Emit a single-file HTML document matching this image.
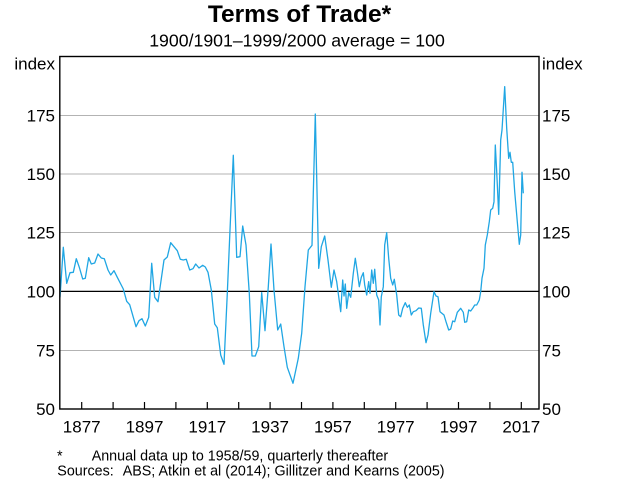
<!DOCTYPE html>
<html><head><meta charset="utf-8"><style>
html,body{margin:0;padding:0;background:#fff;}
svg{display:block;font-family:"Liberation Sans",Arial,sans-serif;}
</style></head><body>
<svg width="619" height="489" viewBox="0 0 619 489" xmlns="http://www.w3.org/2000/svg">
<rect width="619" height="489" fill="#fff"/>
<text x="299.5" y="22" text-anchor="middle" font-size="24.5" font-weight="bold" fill="#000">Terms of Trade*</text>
<text x="297" y="46.5" text-anchor="middle" font-size="17.7" fill="#000">1900/1901–1999/2000 average = 100</text>
<g stroke="#b3b3b3" stroke-width="1" shape-rendering="crispEdges">
<line x1="60" y1="115.3" x2="539" y2="115.3"/>
<line x1="60" y1="173.8" x2="539" y2="173.8"/>
<line x1="60" y1="232.5" x2="539" y2="232.5"/>
<line x1="60" y1="350.3" x2="539" y2="350.3"/>
</g>
<line x1="60" y1="291.4" x2="539" y2="291.4" stroke="#000" stroke-width="1.2"/>
<polyline fill="none" stroke="#20a6e3" stroke-width="1.3" stroke-linejoin="round" points="60,297.3 63.3,247.3 66.7,283.3 70,272.7 73.3,272.3 76.3,258.7 79.3,267.3 82.7,279 85.3,278.3 88.7,257.7 91.3,264 94.7,263 98,254 101.3,258 104.3,258.7 108,270 110.7,275 114,270.7 117.3,277.3 123.3,289 126.7,301.3 129.7,304.7 136,326.7 139,320.7 142,318.7 145.3,326 148.7,317.3 151.7,263.3 154.7,297.3 158,301.7 164,260 167.3,257 170.7,242.7 174,246.7 177.3,250.7 180.3,259.3 183.3,260 186.3,259.3 189.7,270 193,268.7 195.7,264 199,268 202.7,265.3 205.3,267 208,272.3 211.3,290 214.7,324 217.3,327.7 220.7,355 224,364.3 227.3,293.3 230,230 233.3,155.3 236.7,257.3 240,256.7 242.7,226 246,245 249.3,293.3 252,356 255.3,356 258.7,346.7 261.7,292.7 265,330.7 268.3,286.7 271,244 274,290 277.7,330 280.7,324 284,346.7 287.3,367.3 293,383.3 298.3,358.3 301.7,333.3 305,286.7 308.3,250 312,245.3 315.3,114 318.7,268.3 321.3,246.7 324.7,236 328,260 331.3,287.3 334,270 336.7,281.7 338.7,296.7 340.7,311.7 342.7,280 344,296 345.3,284 346.7,308.3 348.7,292.7 350.7,297.3 353.3,273.3 355.3,258.3 357.3,271.7 359.3,286.7 361.3,277.3 363.3,272.7 364.7,285 366.7,295 368.7,281.7 370,293.3 371.7,270 373.3,283.3 374.7,269.3 376.7,295 378.7,300 380,325 381.3,296.7 383.3,286.7 384.7,245 386.7,232.7 388.7,258.3 390.7,278.3 392.7,285 394.3,279.3 396.7,295 398.7,315 400.7,316.7 402.7,308.3 405.3,302.7 407.3,307.3 409.3,305 411.3,315 413.3,311.7 416,310.7 418.7,308 421.3,308.3 423.3,325 426,342.7 428,335 430.7,313.3 434,291.7 436,296 438,296.7 440,311.7 444,315 446,321.7 448.7,330 450.7,329 452.7,321 454.7,321.7 457.3,312.3 460.7,308.3 463.3,312.3 464.7,322.3 466.7,321.7 468.7,310 470.7,311 472.7,308.3 474.7,305 476.7,305 479.3,300 480.7,291.7 482,278.3 484,268.3 485.3,245 487.3,235 489.3,221.7 490.7,210 492.7,208.3 494,201.7 495.3,145 496.7,171.7 498.7,214.3 500.7,140 502,130 504.7,86.7 506.7,128.3 508.7,158.3 510,152.3 511.3,162.3 512.7,162.3 514.7,191.7 517.3,221.7 519.3,244.3 520.7,235 522,172.3 523.3,193.3"/>
<rect x="59.8" y="56.5" width="479.2" height="352.5" fill="none" stroke="#000" stroke-width="1.4"/>
<g stroke="#000" stroke-width="1.2">
<line x1="81.7" y1="409" x2="81.7" y2="402"/>
<line x1="113.1" y1="409" x2="113.1" y2="402"/>
<line x1="144.5" y1="409" x2="144.5" y2="402"/>
<line x1="175.9" y1="409" x2="175.9" y2="402"/>
<line x1="207.3" y1="409" x2="207.3" y2="402"/>
<line x1="238.7" y1="409" x2="238.7" y2="402"/>
<line x1="270.1" y1="409" x2="270.1" y2="402"/>
<line x1="301.5" y1="409" x2="301.5" y2="402"/>
<line x1="332.9" y1="409" x2="332.9" y2="402"/>
<line x1="364.3" y1="409" x2="364.3" y2="402"/>
<line x1="395.7" y1="409" x2="395.7" y2="402"/>
<line x1="427.1" y1="409" x2="427.1" y2="402"/>
<line x1="458.5" y1="409" x2="458.5" y2="402"/>
<line x1="489.9" y1="409" x2="489.9" y2="402"/>
<line x1="521.3" y1="409" x2="521.3" y2="402"/>
</g>
<g font-size="17" fill="#000">
<text x="55" y="69.5" text-anchor="end">index</text>
<text x="55" y="121.3" text-anchor="end">175</text>
<text x="55" y="179.8" text-anchor="end">150</text>
<text x="55" y="238.5" text-anchor="end">125</text>
<text x="55" y="297.4" text-anchor="end">100</text>
<text x="55" y="356.3" text-anchor="end">75</text>
<text x="55" y="415" text-anchor="end">50</text>
<text x="542" y="69.5">index</text>
<text x="542" y="121.3">175</text>
<text x="542" y="179.8">150</text>
<text x="542" y="238.5">125</text>
<text x="542" y="297.4">100</text>
<text x="542" y="356.3">75</text>
<text x="542" y="415">50</text>
<g text-anchor="middle">
<text x="81.7" y="432.3">1877</text>
<text x="144.5" y="432.3">1897</text>
<text x="207.3" y="432.3">1917</text>
<text x="270.1" y="432.3">1937</text>
<text x="332.9" y="432.3">1957</text>
<text x="395.7" y="432.3">1977</text>
<text x="458.5" y="432.3">1997</text>
<text x="521.3" y="432.3">2017</text>
</g>
</g>
<g font-size="14.3" fill="#000">
<text x="57" y="460.7">*</text>
<text x="91.7" y="460.7">Annual data up to 1958/59, quarterly thereafter</text>
<text x="57.3" y="475.7">Sources:</text>
<text x="122.7" y="475.7">ABS; Atkin et al (2014); Gillitzer and Kearns (2005)</text>
</g>
</svg>
</body></html>
